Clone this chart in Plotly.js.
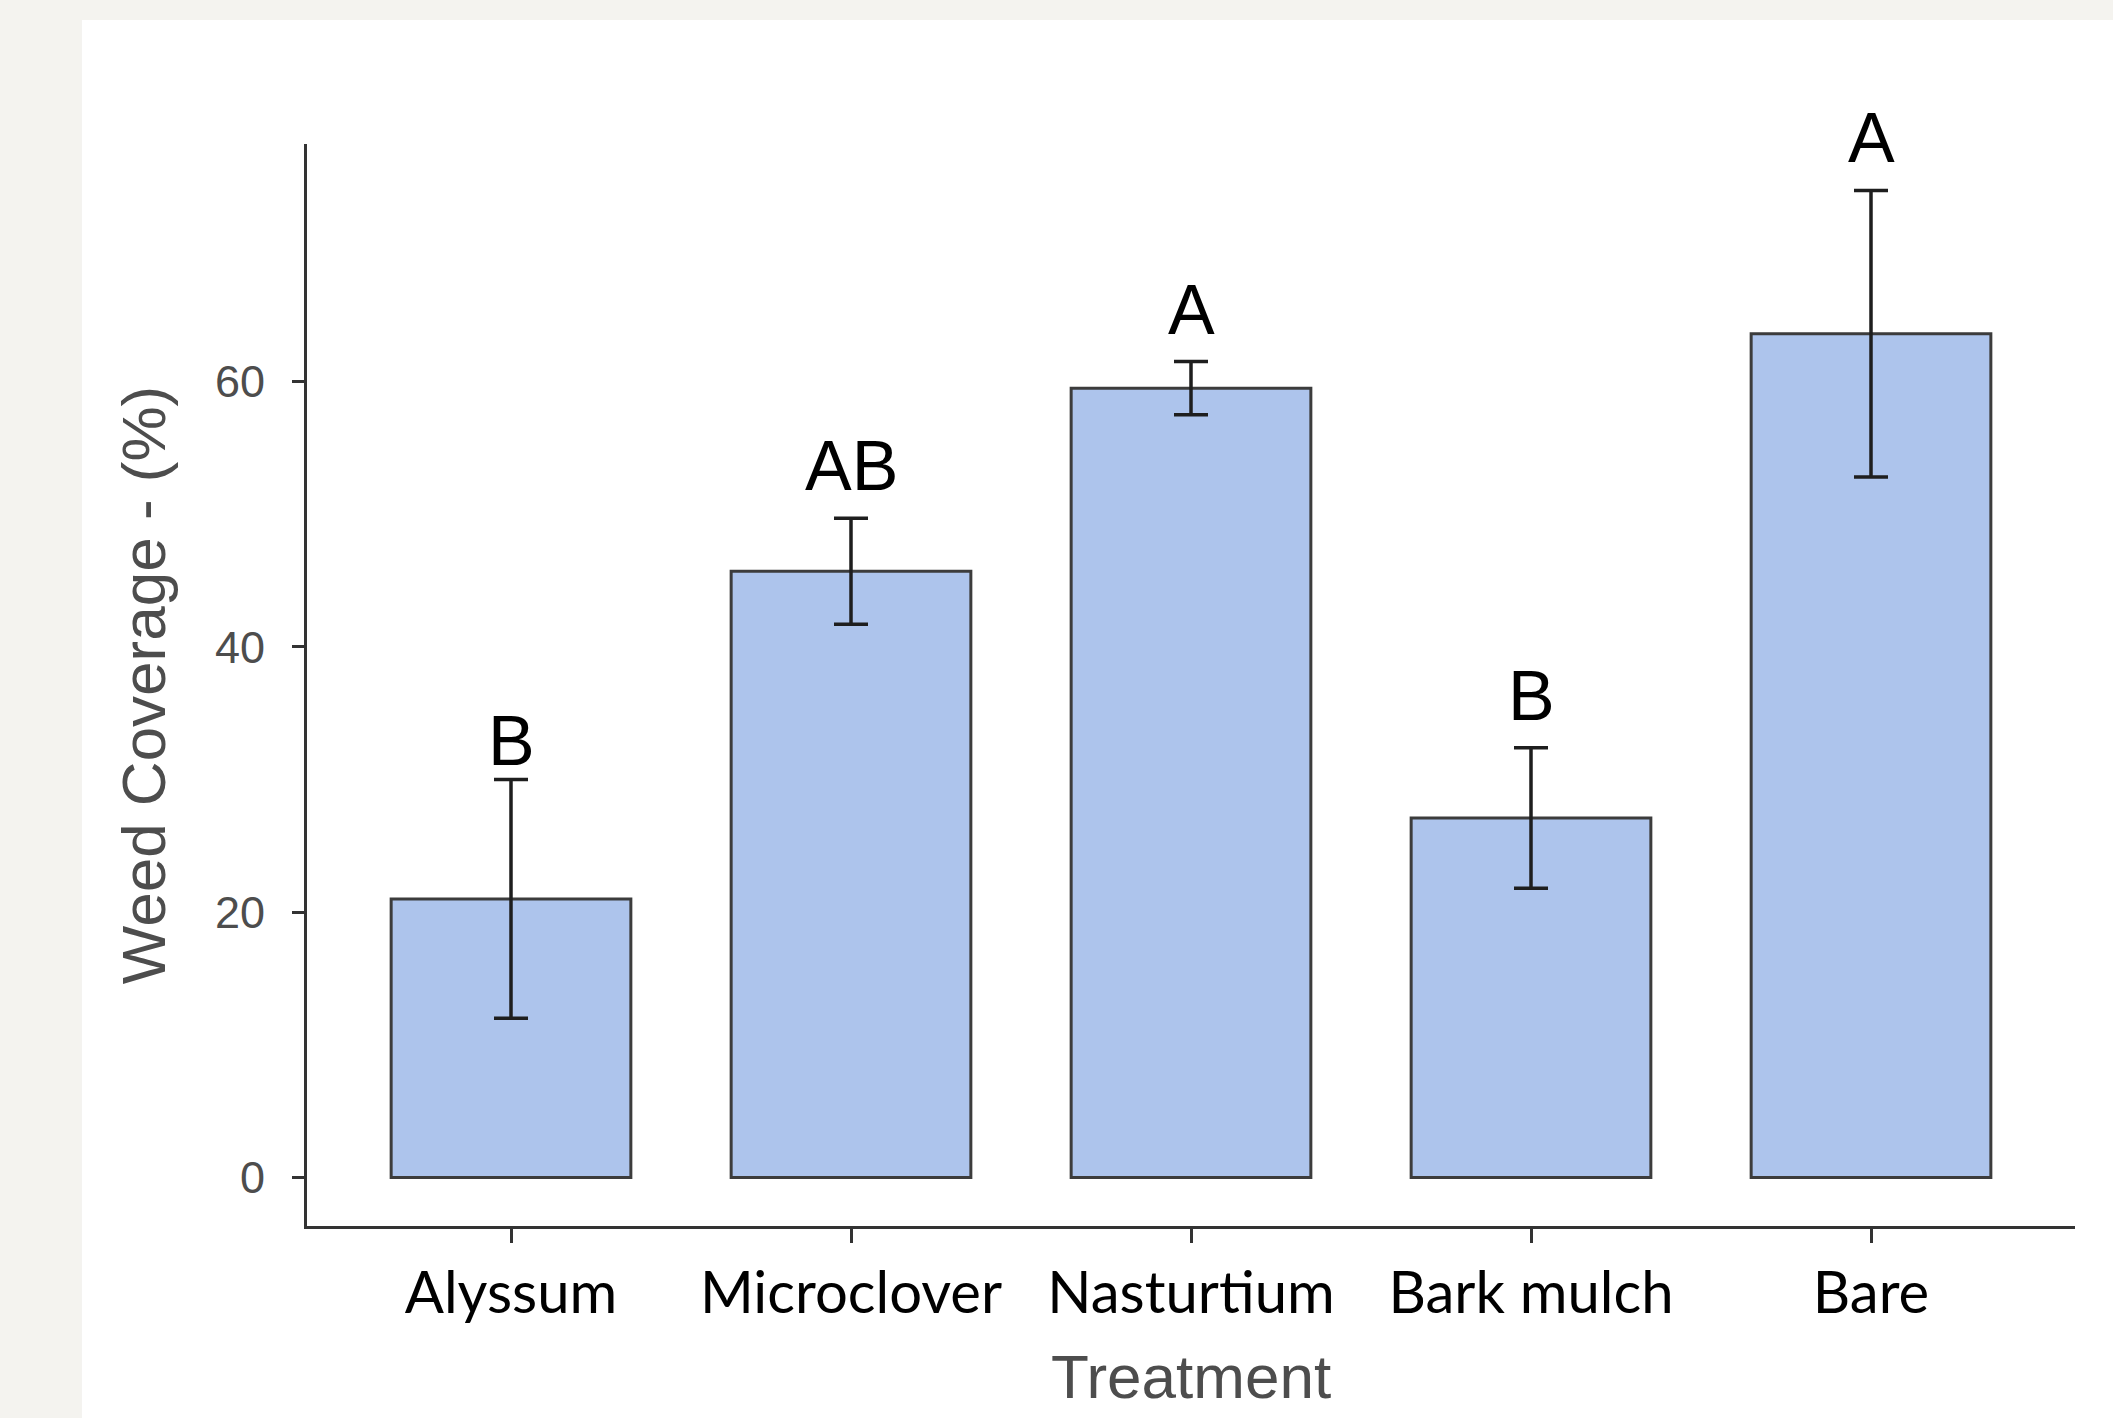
<!DOCTYPE html>
<html>
<head>
<meta charset="utf-8">
<script src="https://cdn.plot.ly/plotly-3.0.1.min.js"></script>
<style>
  html, body { margin: 0; padding: 0; background: #f4f3ef; }
  #chart { width: 2113px; height: 1418px; }
</style>
</head>
<body>
<div id="chart"></div>
<script>
// ---- data ----
const treatments = ["Alyssum", "Microclover", "Nasturtium", "Bark mulch", "Bare"];
const meanCoverage = [21.0, 45.7, 59.5, 27.1, 63.6];
const errCoverage = [9.0, 4.0, 2.0, 5.3, 10.8];
const groupLetters = ["B", "AB", "A", "B", "A"];
const yTickVals = [0, 20, 40, 60];

// ---- styling ----
const letterShift = { Alyssum: -2 };   // fine nudge (px) for the letter placement
const baseShift = 11;

const barTrace = {
  type: "bar",
  x: treatments,
  y: meanCoverage,
  width: 0.705,
  marker: { color: "#adc4ec", line: { color: "#3c3c3c", width: 3 } },
  error_y: { type: "data", array: errCoverage, visible: true, color: "#1e1e1e", thickness: 3.5, width: 17 },
  hoverinfo: "x+y"
};

const letterAnnotations = treatments.map((t, i) => ({
  x: t,
  y: meanCoverage[i] + errCoverage[i],
  xref: "x",
  yref: "y",
  text: groupLetters[i],
  showarrow: false,
  yanchor: "bottom",
  xanchor: "center",
  yshift: baseShift + (letterShift[t] !== undefined ? letterShift[t] : 0),
  font: { family: "Liberation Sans, Arial, sans-serif", size: 70, color: "#000000" }
}));

const layout = {
  width: 2113,
  height: 1418,
  paper_bgcolor: "#f4f3ef",
  plot_bgcolor: "rgba(0,0,0,0)",
  margin: { l: 307, r: 38, t: 144, b: 192, pad: 0 },
  showlegend: false,
  shapes: [{
    type: "rect", xref: "paper", yref: "paper",
    x0: -0.1273, x1: 1.03, y0: -0.2, y1: 1.1146,
    fillcolor: "#ffffff", line: { width: 0 }, layer: "below"
  }],
  xaxis: {
    type: "category",
    range: [-0.6, 4.6],
    showline: true, linewidth: 3, linecolor: "#333333",
    ticks: "outside", ticklen: 14, tickwidth: 3, tickcolor: "#333333",
    showgrid: false, zeroline: false,
    tickfont: { family: "Lato, sans-serif", size: 58, color: "#000000" },
    title: { text: "Treatment", standoff: 32, font: { family: "Liberation Sans, Arial, sans-serif", size: 62, color: "#4d4d4d" } }
  },
  yaxis: {
    range: [-3.65, 77.9],
    showline: true, linewidth: 3, linecolor: "#333333",
    ticks: "outside", ticklen: 12, tickwidth: 3, tickcolor: "#333333",
    ticklabelstandoff: 18,
    tickvals: yTickVals,
    ticktext: yTickVals.map(String),
    showgrid: false, zeroline: false,
    tickfont: { family: "Liberation Sans, Arial, sans-serif", size: 45, color: "#4d4d4d" },
    title: { text: "Weed Coverage - (%)", standoff: 30, font: { family: "Liberation Sans, Arial, sans-serif", size: 62, color: "#4d4d4d" } }
  },
  annotations: letterAnnotations
};

// Alyssum letter sits closer to its error bar in the reference
letterAnnotations[0].yshift = -2;

Plotly.newPlot("chart", [barTrace], layout, { displayModeBar: false, staticPlot: true });
</script>
</body>
</html>
